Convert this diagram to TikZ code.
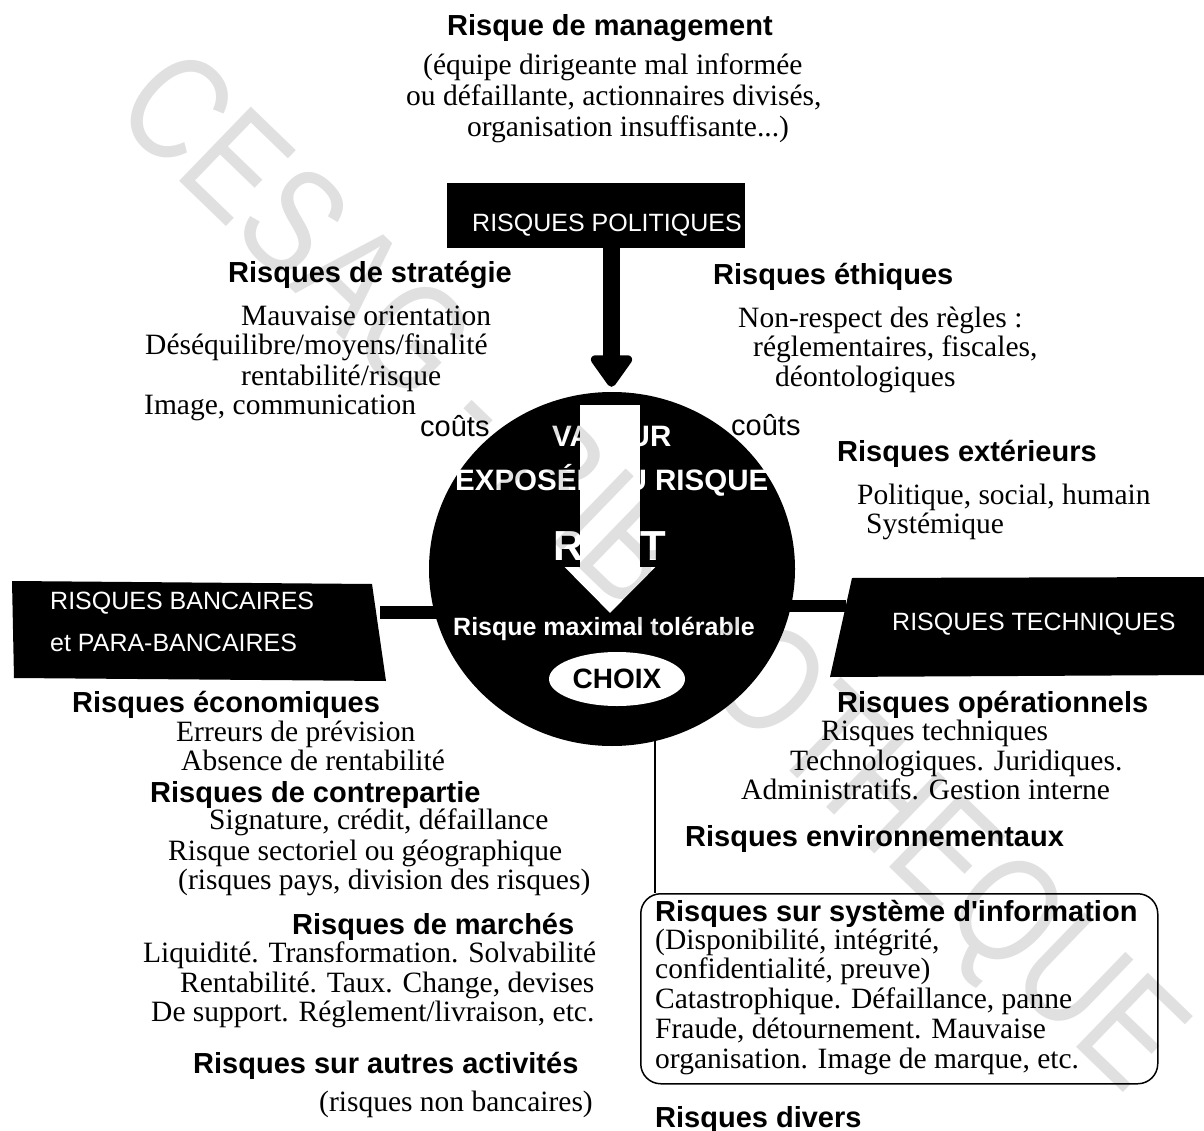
\documentclass[tikz,border=0pt]{standalone}
\usepackage{fontspec}
\setmainfont{Liberation Serif}
\setsansfont{Liberation Sans}
\usetikzlibrary{shapes.geometric,arrows.meta}
\begin{document}
\begin{tikzpicture}[x=1pt,y=-1pt,
  hd/.style={font=\sffamily\bfseries\fontsize{29}{30}\selectfont, inner sep=0pt, anchor=base west},
  tx/.style={font=\rmfamily\fontsize{29.5}{30}\selectfont, inner sep=0pt, anchor=base west},
  cost/.style={font=\sffamily\fontsize{29}{30}\selectfont, inner sep=0pt, anchor=base west},
  bannertext/.style={font=\sffamily\fontsize{25}{30}\selectfont, text=white, inner sep=0pt, anchor=base west},
  core/.style={font=\sffamily\bfseries\fontsize{29.5}{30}\selectfont, text=white, inner sep=0pt, anchor=base west},
  bigcore/.style={font=\sffamily\bfseries\fontsize{42}{42}\selectfont, text=white, inner sep=0pt, anchor=base west},
  link/.style={line width=1.5pt},
]
\useasboundingbox (0,0) rectangle (1204,1131);
\fill[white] (0,0) rectangle (1204,1131);

% ---- top block
\node[hd] (mgmt) at (447,36) {Risque de management};
\node[tx] (mg1) at (423,75) {(équipe dirigeante mal informée};
\node[tx] (mg2) at (406,106) {ou défaillante, actionnaires divisés,};
\node[tx] (mg3) at (467,137) {organisation insuffisante...)};

% ---- banners
\node[fill=black, minimum width=298pt, minimum height=65pt, inner sep=0pt, anchor=north west] (pol) at (447,183) {};
\node[bannertext] (poltext) at (472,232) {RISQUES POLITIQUES};

\fill (12,581) -- (372,584) -- (386,681) -- (14,678) -- cycle;
\coordinate (bankR) at (380,612);
\node[bannertext] (bank1) at (50,609) {RISQUES BANCAIRES};
\node[bannertext] (bank2) at (50,651) {et PARA-BANCAIRES};

\fill (852,578) -- (1204,577) -- (1204,675) -- (830,677) -- cycle;
\coordinate (techL) at (846,606);
\node[bannertext] (tech) at (892,630) {RISQUES TECHNIQUES};

% ---- central disc and its links
\coordinate (discc) at (612,569);
\draw[line width=13pt] (bankR) -- (bankR -| discc);
\draw[line width=12pt] (techL) -- (techL -| discc);
\coordinate (linetop) at (655,735);
\node[draw, rounded corners=20pt, link, minimum width=517pt, minimum height=190pt, inner sep=0pt, anchor=north west] (isbox) at (640,893) {};
\draw[link] (linetop) -- (linetop |- isbox.north);
\node[ellipse, fill=black, minimum width=366pt, minimum height=354pt, inner sep=0pt] (disc) at (discc) {};

\draw[line width=17pt, -{Triangle[width=47pt,length=35pt,round]}, shorten >=5pt]
  (pol.south -| 611.5,0) -- (disc.north -| 611.5,0);

\node[core] (val) at (552,446) {VALEUR};
\node[core] (expo) at (455,490) {EXPOSÉE AU RISQUE};
\node[bigcore] (rr) at (553,560) {R};
\node[bigcore] (tt) at (640,560) {T};
\coordinate (wtop) at (610,405);
\coordinate (wtip) at (610,613);
\draw[white, line width=60pt, -{Triangle[width=88pt,length=46pt]}] (wtop) -- (wtip);
\node[core, font=\sffamily\bfseries\fontsize{25}{30}\selectfont] (rmt) at (453,635) {Risque maximal tolérable};
\node[ellipse, fill=white, minimum width=136pt, minimum height=54pt, inner sep=0pt,
      font=\sffamily\bfseries\fontsize{28}{30}\selectfont] (choix) at (617,679) {CHOIX};

% ---- strategy
\node[hd] (strat) at (228,283) {Risques de stratégie};
\node[tx] (st1) at (241,326) {Mauvaise orientation};
\node[tx] (st2) at (145,355) {Déséquilibre/moyens/finalité};
\node[tx] (st3) at (241,385) {rentabilité/risque};
\node[tx] (st4) at (144,414) {Image, communication};
\node[cost] (costL) at (420,436) {coûts};

% ---- ethics / external
\node[hd] (eth) at (713,285) {Risques éthiques};
\node[tx] (et1) at (738,327) {Non-respect des règles :};
\node[tx] (et2) at (753,356) {réglementaires, fiscales,};
\node[tx] (et3) at (775,386) {déontologiques};
\node[cost] (costR) at (731,435) {coûts};
\node[hd] (ext) at (837,461) {Risques extérieurs};
\node[tx] (ex1) at (857,504) {Politique, social, humain};
\node[tx] (ex2) at (866,533) {Systémique};

% ---- banking risks
\node[hd] (eco) at (72,712) {Risques économiques};
\node[tx] (ec1) at (176,741) {Erreurs de prévision};
\node[tx] (ec2) at (181,770) {Absence de rentabilité};
\node[hd] (cp) at (150,802) {Risques de contrepartie};
\node[tx] (cp1) at (209,829) {Signature, crédit, défaillance};
\node[tx] (cp2) at (168,860) {Risque sectoriel ou géographique};
\node[tx] (cp3) at (178,889) {(risques pays, division des risques)};
\node[hd] (mk) at (292,934) {Risques de marchés};
\node[tx] (mk1) at (143,962) {Liquidité. Transformation. Solvabilité};
\node[tx] (mk2) at (180,992) {Rentabilité. Taux. Change, devises};
\node[tx] (mk3) at (151,1021) {De support. Réglement/livraison, etc.};
\node[hd] (oth) at (193,1073) {Risques sur autres activités};
\node[tx] (ot1) at (319,1111) {(risques non bancaires)};

% ---- technical risks
\node[hd] (op) at (837,712) {Risques opérationnels};
\node[tx] (op1) at (821,740) {Risques techniques};
\node[tx] (op2) at (790,770) {Technologiques. Juridiques.};
\node[tx] (op3) at (741,799) {Administratifs. Gestion interne};
\node[hd] (env) at (685,846) {Risques environnementaux};
\node[hd] (si) at (655,921) {Risques sur système d\textquotesingle information};
\node[tx] (si1) at (655,949) {(Disponibilité, intégrité,};
\node[tx] (si2) at (655,978) {confidentialité, preuve)};
\node[tx] (si3) at (655,1008) {Catastrophique. Défaillance, panne};
\node[tx] (si4) at (655,1038) {Fraude, détournement. Mauvaise};
\node[tx] (si5) at (655,1068) {organisation. Image de marque, etc.};
\node[hd] (div) at (655,1127) {Risques divers};

% ---- library stamp across the page
\begin{scope}[blend mode=multiply]
\node[font=\sffamily\fontsize{150}{150}\selectfont, text=black!12, inner sep=0pt,
      rotate=-44, xscale=0.8] (stamp) at (645,578) {CESAG - BIBLIOTHEQUE};
\end{scope}
\end{tikzpicture}
\end{document}
